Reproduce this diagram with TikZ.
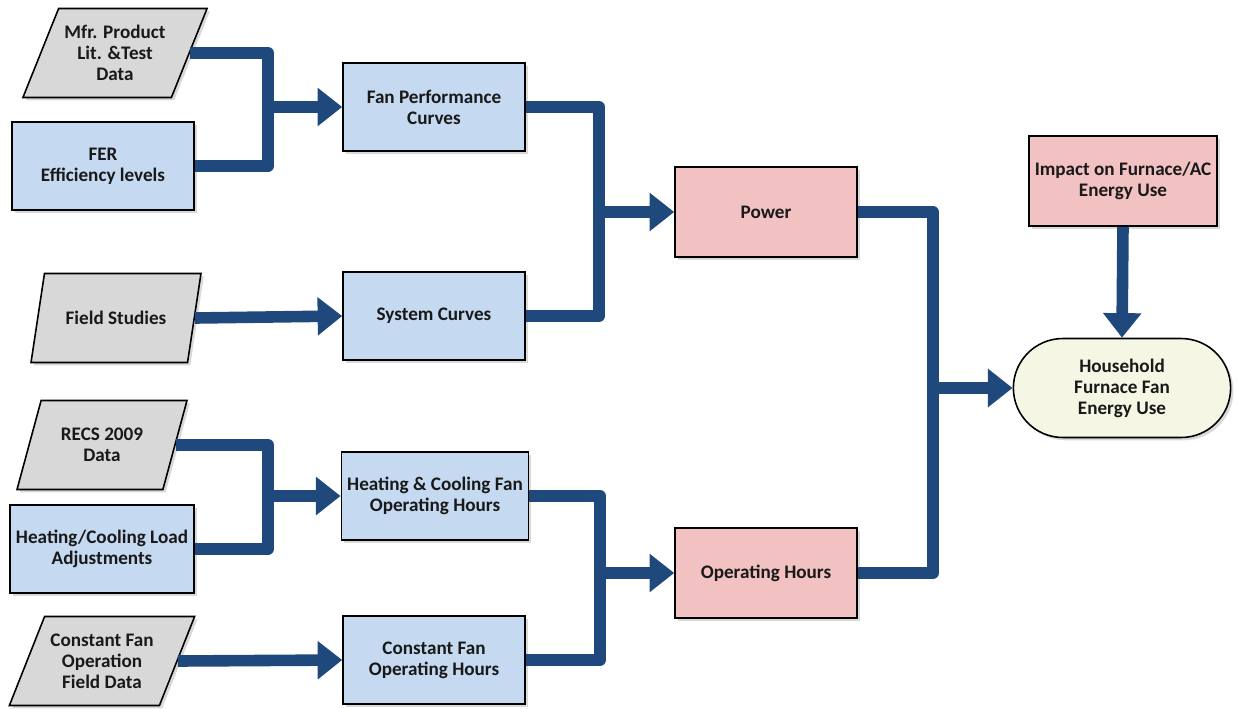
\documentclass[tikz,border=0pt]{standalone}
\usepackage{fontspec}
\setmainfont{Carlito}
\usepackage{xcolor}
\usetikzlibrary{arrows.meta,positioning,shapes.geometric,shapes.misc,shadows}

\definecolor{boxblue}{RGB}{197,217,241}
\definecolor{datagray}{RGB}{216,216,216}
\definecolor{boxpink}{RGB}{242,193,193}
\definecolor{resultcream}{RGB}{245,247,228}
\definecolor{connblue}{RGB}{31,73,125}

\begin{document}
\begin{tikzpicture}[x=0.02cm, y=-0.02cm, every node/.style={font=\bfseries\fontsize{10.9}{11.9}\selectfont, align=center, text=black!90},
    shade/.style={drop shadow={shadow xshift=1.6pt, shadow yshift=-1.6pt, opacity=0.3}},
    inbox/.style={draw, line width=0.9pt, fill=boxblue, minimum width=3.64cm, minimum height=1.76cm, shade},
    datain/.style={trapezium, trapezium left angle=62, trapezium right angle=118, trapezium stretches body, draw, line width=0.9pt, fill=datagray, minimum width=3.4cm, minimum height=1.78cm, shade},
    outbox/.style={draw, line width=0.9pt, fill=boxpink, minimum width=3.64cm, minimum height=1.8cm, shade},
    result/.style={rounded rectangle, draw, line width=0.9pt, fill=resultcream, minimum width=4.58cm, minimum height=1.98cm, shade},
    conn/.style={draw=connblue, line width=6.6pt, line join=round},
    tip/.style={-{Triangle[width=21pt,length=14pt]}}]
    \useasboundingbox (0,0) rectangle (1238,708);

    % inputs
    \node[datain] (mfr) at (115,53) {Mfr. Product\\Lit. \&Test\\Data};
    \node[inbox] (fer) at (103,166) {FER\\Efficiency levels};
    \node[datain] (field) at (116,318) {Field Studies};
    \node[datain] (recs) at (102,445) {RECS 2009\\Data};
    \node[inbox] (hcl) at (102,549) {Heating/Cooling Load\\Adjustments};
    \node[datain] (cfd) at (102,661) {Constant Fan\\Operation\\Field Data};

    % intermediate
    \node[inbox] (fpc) at (434,107) {Fan Performance\\Curves};
    \node[inbox] (sys) at (434,316) {System Curves};
    \node[inbox] (hcfoh) at (435,496) {Heating \& Cooling Fan\\Operating Hours};
    \node[inbox] (cfoh) at (434,660) {Constant Fan\\Operating Hours};

    \node[outbox] (power) at (766,212) {Power};
    \node[outbox] (ophrs) at (766,573) {Operating Hours};
    \node[outbox, minimum width=3.6cm] (impact) at (1123,181) {Impact on Furnace/AC\\Energy Use};
    \node[result] (house) at (1122,388) {Household\\Furnace Fan\\Energy Use};

    % junctions
    \coordinate (j1) at (268,107);
    \coordinate (j2) at (599,212);
    \coordinate (j3) at (268,496);
    \coordinate (j4) at (600,573);
    \coordinate (j5) at (933,388);

    \draw[conn] (mfr.east) -| (j1) |- (fer.east);
    \draw[conn, tip] (j1) -- (fpc.west);
    \draw[conn, tip] (field.east) -- (sys.west);
    \draw[conn] (fpc.east) -| (j2) |- (sys.east);
    \draw[conn, tip] (j2) -- (power.west);

    \draw[conn] (recs.east) -| (j3) |- (hcl.east);
    \draw[conn, tip] (j3) -- (hcfoh.west);
    \draw[conn, tip] (cfd.east) -- (cfoh.west);
    \draw[conn] (hcfoh.east) -| (j4) |- (cfoh.east);
    \draw[conn, tip] (j4) -- (ophrs.west);

    \draw[conn] (power.east) -| (j5) |- (ophrs.east);
    \draw[conn, tip] (j5) -- (house.west);
    \draw[conn, tip] (impact.south) -- (house.north);
\end{tikzpicture}
\end{document}
